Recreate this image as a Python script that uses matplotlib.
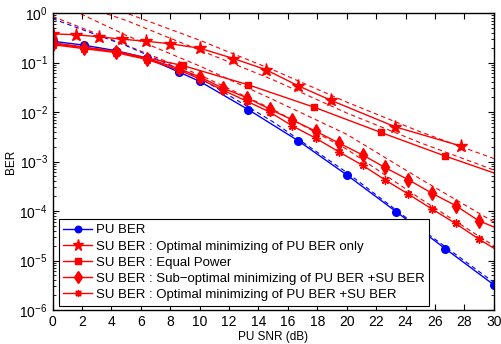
import numpy as np
import matplotlib
matplotlib.use("Agg")
import matplotlib.pyplot as plt
from matplotlib.ticker import LogLocator, NullFormatter

plt.rcParams['font.family'] = ['Liberation Sans', 'DejaVu Sans']
plt.rcParams['mathtext.default'] = 'regular'

# PU BER (log10 values)
pu_x = [0, 2.14, 4.29, 6.43, 8.57, 10, 13.3, 16.7, 20, 23.35, 26.7, 30]
pu_log = [-0.57, -0.65, -0.76, -0.91, -1.19, -1.38, -1.95, -2.58, -3.27, -4.01, -4.76, -5.49]

# SU BER : Optimal minimizing of PU BER only
star_x = [0, 1.6, 3.15, 4.75, 6.35, 7.95, 10, 12.3, 14.5, 16.7, 18.9, 23.3, 27.8]
star_log = [-0.42, -0.44, -0.48, -0.53, -0.57, -0.62, -0.71, -0.92, -1.145, -1.47, -1.76, -2.30, -2.69]

# SU BER : Equal Power
sq_x = [0, 4.4, 8.84, 13.3, 17.8, 22.3, 26.7, 30]
sq_log = [-0.60, -0.78, -1.06, -1.45, -1.905, -2.41, -2.89, -3.23]

# SU BER : Sub-optimal minimizing of PU BER +SU BER
dia_x = [0, 2.14, 4.29, 6.43, 8.57, 10, 11.6, 13.2, 14.76, 16.3, 17.9, 19.5,
         21.1, 22.6, 24.2, 25.8, 27.4, 29.0, 30]
dia_log = [-0.62, -0.70, -0.78, -0.92, -1.12, -1.29, -1.52, -1.71, -1.94, -2.16, -2.39, -2.63,
           -2.87, -3.12, -3.37, -3.64, -3.89, -4.20, -4.32]

# SU BER : Optimal minimizing of PU BER +SU BER
ast_x = dia_x
ast_log = [-0.64, -0.72, -0.80, -0.94, -1.15, -1.33, -1.56, -1.78, -2.00, -2.28, -2.53, -2.81,
           -3.08, -3.37, -3.66, -3.96, -4.25, -4.57, -4.75]

# dashed approximations
dash_x = [0, 5, 10, 15, 20, 25, 30]
blue_dash = [-0.115, -0.66, -1.31, -2.2, -3.22, -4.35, -5.44]
red_dash = [
    [0.5, 0.0, -0.55, -1.15, -1.8, -2.4, -2.94],
    [0.35, -0.15, -0.75, -1.35, -2.02, -2.62, -3.17],
    [0.25, -0.45, -1.07, -1.75, -2.45, -3.35, -4.22],
    [-0.07, -0.65, -1.25, -1.95, -2.75, -3.75, -4.70],
]

labels = ["PU BER",
          "SU BER : Optimal minimizing of PU BER only",
          "SU BER : Equal Power",
          "SU BER : Sub\u2212optimal minimizing of PU BER +SU BER",
          "SU BER : Optimal minimizing of PU BER +SU BER"]


def p(v):
    return 10 ** np.array(v)


fig = plt.figure(figsize=(5.01, 3.44), dpi=100)
ax = fig.add_axes([0.105, 0.0988, 0.8805, 0.8634])

for d in red_dash:
    ax.semilogy(dash_x, p(d), color='r', ls=(0, (4, 3)), lw=0.8)
ax.semilogy(dash_x, p(blue_dash), color='b', ls=(0, (4, 3)), lw=0.8)

ax.semilogy(pu_x, p(pu_log), color='b', lw=1, marker='o', ms=5.5, label=labels[0])
ax.semilogy(star_x, p(star_log), color='r', lw=1, marker='*', ms=9.5, label=labels[1])
ax.semilogy(sq_x, p(sq_log), color='r', lw=1, marker='s', ms=4.5,
            markevery=list(range(len(sq_x) - 1)), label=labels[2])
ax.semilogy(dia_x, p(dia_log), color='r', lw=1, marker='d', ms=7,
            markevery=list(range(len(dia_x) - 1)), label=labels[3])
ax.semilogy(ast_x, p(ast_log), color='r', lw=1, marker=(8, 2, 0), ms=6,
            markevery=list(range(len(ast_x) - 1)), label=labels[4])

ax.set_xlim(0, 30)
ax.set_ylim(1e-6, 1)
ax.set_xticks(range(0, 31, 2))
ax.set_yticks([10.0 ** k for k in range(-6, 1)])
ax.set_yticklabels(['$10^{%d}$' % k for k in range(-6, 1)])
ax.yaxis.set_minor_locator(LogLocator(base=10, subs=np.arange(2, 10), numticks=20))
ax.yaxis.set_minor_formatter(NullFormatter())
ax.tick_params(which='both', direction='in', top=True, right=True, labelsize=10)
ax.tick_params(which='major', length=4)
ax.tick_params(which='minor', length=2)
for s in ax.spines.values():
    s.set_linewidth(1)

ax.set_xlabel("PU SNR (dB)", fontsize=8.5, labelpad=1.5)
ax.set_ylabel("BER", fontsize=8.5, labelpad=2)

leg = ax.legend(loc='lower left', bbox_to_anchor=(0.0136, 0.0145), borderaxespad=0,
                fontsize=9.5, fancybox=False, framealpha=1, edgecolor='k', markerscale=0.85,
                handlelength=2.2, labelspacing=0.3, borderpad=0.35, handletextpad=0.25)
leg.get_frame().set_linewidth(0.8)

fig.savefig("out.png", dpi=100)
